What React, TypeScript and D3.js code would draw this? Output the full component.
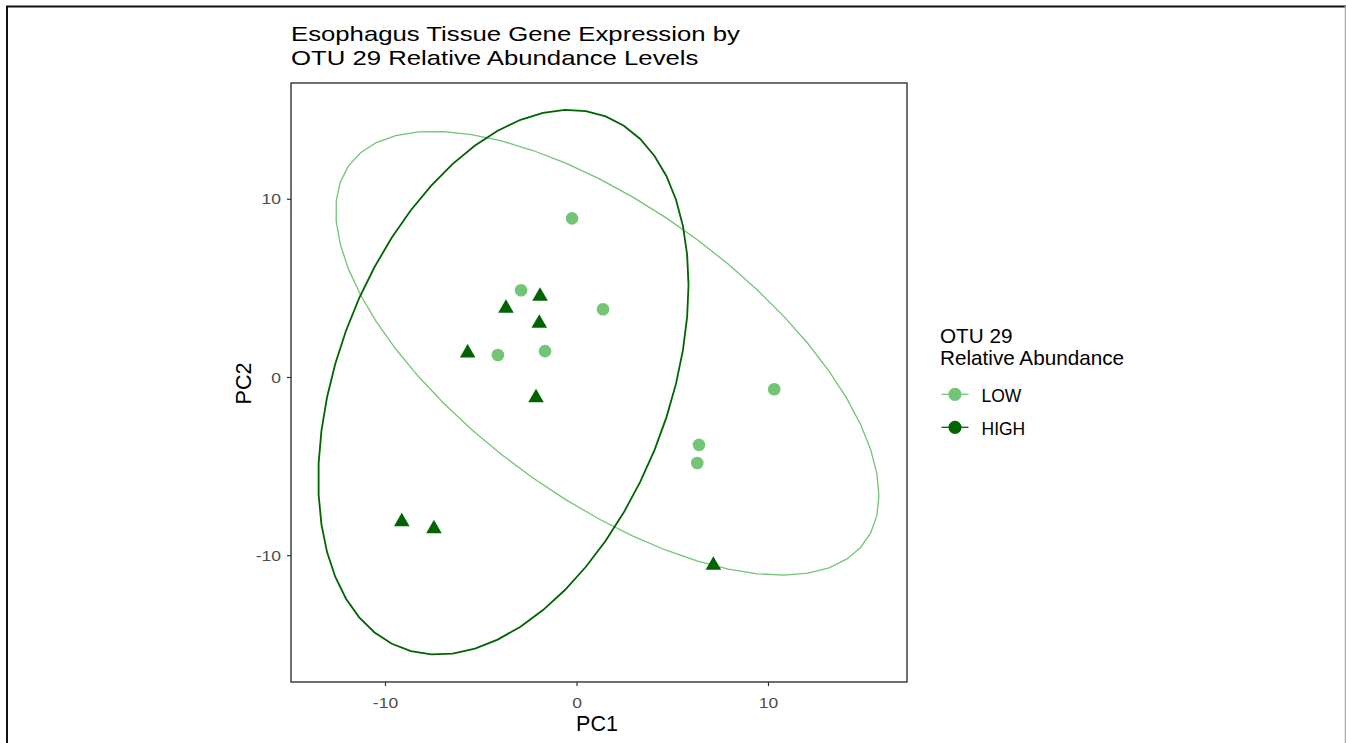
import React from "react";
import * as d3 from "d3";

const lowX = [-0.26, -2.92, 1.36, -4.13, -1.67, 10.3, 6.37, 6.28];
const lowY = [8.93, 4.9, 3.83, 1.26, 1.48, -0.66, -3.78, -4.8];
const highX = [-1.93, -3.71, -1.97, -5.71, -2.14, -9.15, -7.47, 7.12];
const highY = [4.56, 3.89, 3.04, 1.37, -1.13, -8.09, -8.49, -10.54];
const xTicks = [-10, 0, 10];
const yTicks = [-10, 0, 10];
const groups = ["LOW", "HIGH"];
const groupColors = ["#74c476", "#006400"];

const W = 1346, H = 743;
const P = { left: 291, right: 907, top: 83, bottom: 682 };
const FONT = "'Liberation Sans', Arial, sans-serif";

function covTrob(pts: number[][], nu = 5, maxit = 25, tol = 0.01) {
  const n = pts.length, p = 2;
  let loc = [d3.mean(pts, (d) => d[0])!, d3.mean(pts, (d) => d[1])!];
  let w = pts.map(() => 1);
  let X: number[][] = [];
  for (let iter = 0; iter < maxit; iter++) {
    const w0 = w.slice();
    X = pts.map((d) => [d[0] - loc[0], d[1] - loc[1]]);
    const sw = d3.sum(w);
    let c00 = 0, c01 = 0, c11 = 0;
    X.forEach((x, i) => {
      c00 += (w[i] / sw) * x[0] * x[0];
      c01 += (w[i] / sw) * x[0] * x[1];
      c11 += (w[i] / sw) * x[1] * x[1];
    });
    const det = c00 * c11 - c01 * c01;
    const Q = X.map((x) => (c11 * x[0] * x[0] - 2 * c01 * x[0] * x[1] + c00 * x[1] * x[1]) / det);
    w = Q.map((q) => (nu + p) / (nu + q));
    const sw2 = d3.sum(w);
    loc = [d3.sum(pts, (d, i) => w[i] * d[0]) / sw2, d3.sum(pts, (d, i) => w[i] * d[1]) / sw2];
    if (w.every((v, i) => Math.abs(v - w0[i]) < tol)) break;
  }
  let c00 = 0, c01 = 0, c11 = 0;
  X.forEach((x, i) => {
    c00 += w[i] * x[0] * x[0];
    c01 += w[i] * x[0] * x[1];
    c11 += w[i] * x[1] * x[1];
  });
  return { cov: [c00 / n, c01 / n, c11 / n], center: loc };
}

function ellipsePts(xs: number[], ys: number[], level = 0.95, segments = 51) {
  const pts = xs.map((x, i) => [x, ys[i]]);
  const { cov, center } = covTrob(pts);
  const dfd = pts.length - 1;
  const qf = (dfd / 2) * (Math.pow(1 - level, -2 / dfd) - 1);
  const radius = Math.sqrt(2 * qf);
  const r00 = Math.sqrt(cov[0]);
  const r01 = cov[1] / r00;
  const r11 = Math.sqrt(cov[2] - r01 * r01);
  return d3.range(segments + 1).map((k) => {
    const a = (k * 2 * Math.PI) / segments;
    const c = Math.cos(a), s = Math.sin(a);
    return [center[0] + radius * c * r00, center[1] + radius * (c * r01 + s * r11)];
  });
}

export default function App() {
  const x = d3.scaleLinear().domain([0, 10]).range([577, 768.5]);
  const y = d3.scaleLinear().domain([0, 10]).range([377.5, 199.3]);
  const line = d3.line<number[]>().x((d) => x(d[0])).y((d) => y(d[1]));
  const ellLow = ellipsePts(lowX, lowY);
  const ellHigh = ellipsePts(highX, highY);
  const r = 9;
  const triPath = `M0,${-r}L${(Math.sqrt(3) / 2) * r},${r / 2}L${(-Math.sqrt(3) / 2) * r},${r / 2}Z`;
  const tickSX = 1.25;
  return (
    <svg width={W} height={H} style={{ position: "fixed", left: 0, top: 0, background: "#fff" }} fontFamily={FONT}>
      <rect x={0} y={0} width={W} height={H} fill="#fff" />
      <line x1={6} x2={W} y1={6.5} y2={6.5} stroke="#111" strokeWidth={2} />
      <line x1={7} x2={7} y1={6} y2={H} stroke="#111" strokeWidth={2} />
      <line x1={1345.5} x2={1345.5} y1={6} y2={H} stroke="#aaa" strokeWidth={1.5} />

      <g transform="translate(291,0) scale(1.255,1)">
        <text x={0} y={41} fontSize={20.5} fill="#000">Esophagus Tissue Gene Expression by</text>
        <text x={0} y={65.5} fontSize={20.5} fill="#000">OTU 29 Relative Abundance Levels</text>
      </g>

      <defs>
        <clipPath id="panel">
          <rect x={P.left} y={P.top} width={P.right - P.left} height={P.bottom - P.top} />
        </clipPath>
      </defs>
      <g clipPath="url(#panel)">
        <path d={line(ellLow)!} fill="none" stroke={groupColors[0]} strokeWidth={1.3} />
        <path d={line(ellHigh)!} fill="none" stroke={groupColors[1]} strokeWidth={1.8} />
        {lowX.map((v, i) => (
          <circle key={"l" + i} cx={x(v)} cy={y(lowY[i])} r={6.3} fill={groupColors[0]} />
        ))}
        {highX.map((v, i) => (
          <path key={"h" + i} d={triPath} transform={`translate(${x(v)},${y(highY[i])})`} fill={groupColors[1]} />
        ))}
      </g>
      <rect x={P.left} y={P.top} width={P.right - P.left} height={P.bottom - P.top} fill="none" stroke="#333" strokeWidth={1.4} />

      {xTicks.map((t) => (
        <g key={"xt" + t}>
          <line x1={x(t)} x2={x(t)} y1={P.bottom} y2={P.bottom + 4} stroke="#333" strokeWidth={1.2} />
          <g transform={`translate(${x(t)},${P.bottom + 26}) scale(${tickSX},1)`}>
            <text x={0} y={0} fontSize={14} fill="#4d4d4d" textAnchor="middle">{t}</text>
          </g>
        </g>
      ))}
      {yTicks.map((t) => (
        <g key={"yt" + t}>
          <line x1={P.left - 4} x2={P.left} y1={y(t)} y2={y(t)} stroke="#333" strokeWidth={1.2} />
          <g transform={`translate(${P.left - 10},${y(t) + 5}) scale(${tickSX},1)`}>
            <text x={0} y={0} fontSize={14} fill="#4d4d4d" textAnchor="end">{t}</text>
          </g>
        </g>
      ))}
      <text x={597} y={731} fontSize={21.5} textAnchor="middle" fill="#000">PC1</text>
      <text transform={`translate(250.5,383.5) rotate(-90)`} fontSize={21.5} textAnchor="middle" fill="#000">PC2</text>

      <text x={940} y={343.3} fontSize={20.7} fill="#000">OTU 29</text>
      <text x={940} y={365} fontSize={20.7} fill="#000">Relative Abundance</text>
      {groups.map((g, i) => (
        <g key={g} transform={`translate(0,${394.3 + i * 33})`}>
          <line x1={941.5} x2={968.5} y1={0} y2={0} stroke={groupColors[i]} strokeWidth={1.3} />
          <circle cx={955} cy={0} r={6.6} fill={groupColors[i]} />
          <text x={981.5} y={7.3} fontSize={17.5} fill="#000">{g}</text>
        </g>
      ))}
    </svg>
  );
}
